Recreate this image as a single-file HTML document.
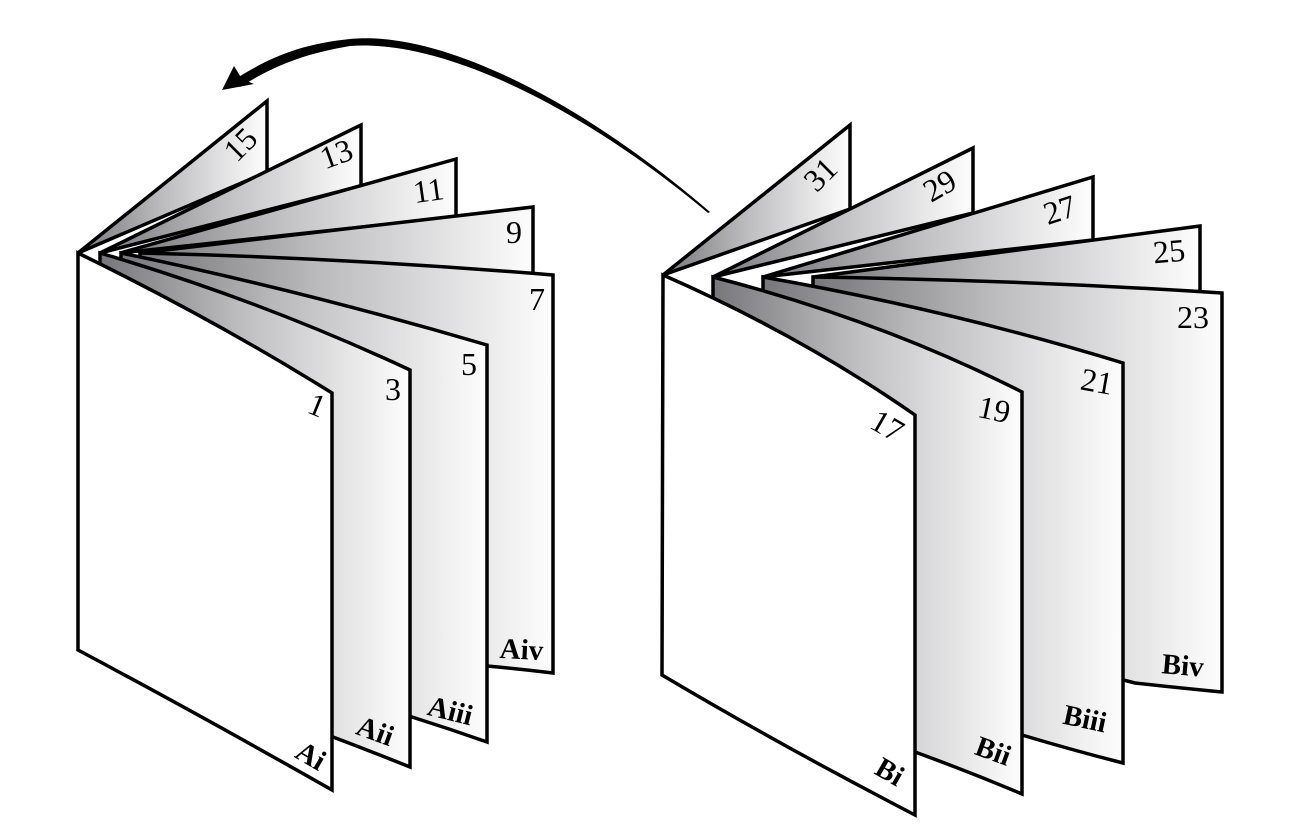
<!DOCTYPE html>
<html><head><meta charset="utf-8"><style>
html,body{margin:0;padding:0;background:#fff}
svg{display:block}
text{font-family:"Liberation Serif",serif;font-size:32px;fill:#000;text-anchor:middle}
.b{font-weight:bold;font-size:29px}
</style></head><body>
<svg width="1299" height="827" viewBox="0 0 1299 827" xmlns="http://www.w3.org/2000/svg">
<defs>
<linearGradient id="g" x1="0" y1="0" x2="1" y2="0">
<stop offset="0" stop-color="#77777b"/><stop offset="0.45" stop-color="#bdbdc0"/><stop offset="1" stop-color="#fdfdfd"/>
</linearGradient>
</defs>
<g stroke="#000" stroke-width="3.5" stroke-linejoin="miter" fill="url(#g)">
<path d="M78,253 L267,101 L267,172 Z"/>
<path d="M100,253 L361,125 L361,186 Z"/>
<path d="M120,253 L456,159 L456,217 Z"/>
<path d="M140,253 L533,207 L533,274 Z"/>
<path d="M140,253 Q350,258 553,275 L553,673 Q520,669 487,666 L140,600 Z"/>
<path d="M121,253 Q300,290 487,345 L487,742 Q450,729 412,717 L121,620 Z"/>
<path d="M100,253 Q260,300 410,370 L410,767 Q370,751 333,737 L100,640 Z"/>
<path d="M78,253 Q215,320 332,393 L332,790 Q200,715 78,650 Z" fill="#fff"/>
<path d="M663,275 L850,125 L850,209 Z"/>
<path d="M713,277 L973,148 L973,213 Z"/>
<path d="M763,277 L1093,177 L1093,240 Z"/>
<path d="M813,277 L1200,226 L1200,292 Z"/>
<path d="M813,277 Q1020,280 1222,293 L1222,692 Q1180,688 1135,683 L813,600 Z"/>
<path d="M763,277 Q950,310 1123,363 L1123,763 Q1072,750 1022,735 L763,620 Z"/>
<path d="M713,277 Q880,320 1022,392 L1022,794 Q970,772 915,752 L713,640 Z"/>
<path d="M663,275 Q800,335 915,415 L915,815 Q780,745 662,675 Z" fill="#fff"/>
</g>
<path d="M710,212 C580,100 440,30 350,39 C300,44 268,58 234,80 L240,87 C272,67 302,54 350,46 C440,39 578,104 708,213 Z" fill="#000"/>
<path d="M222,90 L234,66 L242,79 L254,84 Z" fill="#000"/>
<text transform="translate(248,152) rotate(-45)">15</text>
<text transform="translate(340,164) rotate(-20)">13</text>
<text transform="translate(430,201) rotate(-8)">11</text>
<text transform="translate(514,243)">9</text>
<text transform="translate(537,310)">7</text>
<text transform="translate(469,375)">5</text>
<text transform="translate(393,400)">3</text>
<text transform="translate(313,415) rotate(22)">1</text>
<text class="b" transform="translate(306,764) rotate(30)">Ai</text>
<text class="b" transform="translate(372,740) rotate(20)">Aii</text>
<text class="b" transform="translate(448,720) rotate(14)">Aiii</text>
<text class="b" transform="translate(521,659) rotate(3)">Aiv</text>
<text transform="translate(828,182) rotate(-45)">31</text>
<text transform="translate(945,195) rotate(-30)">29</text>
<text transform="translate(1063,220) rotate(-18)">27</text>
<text transform="translate(1170,262) rotate(-5)">25</text>
<text transform="translate(1193,328)">23</text>
<text transform="translate(1095,392) rotate(10)">21</text>
<text transform="translate(992,420) rotate(12)">19</text>
<text transform="translate(882,435) rotate(30)">17</text>
<text class="b" transform="translate(885,780) rotate(30)">Bi</text>
<text class="b" transform="translate(990,760) rotate(20)">Bii</text>
<text class="b" transform="translate(1083,728) rotate(12)">Biii</text>
<text class="b" transform="translate(1182,675) rotate(5)">Biv</text>
</svg>
</body></html>
